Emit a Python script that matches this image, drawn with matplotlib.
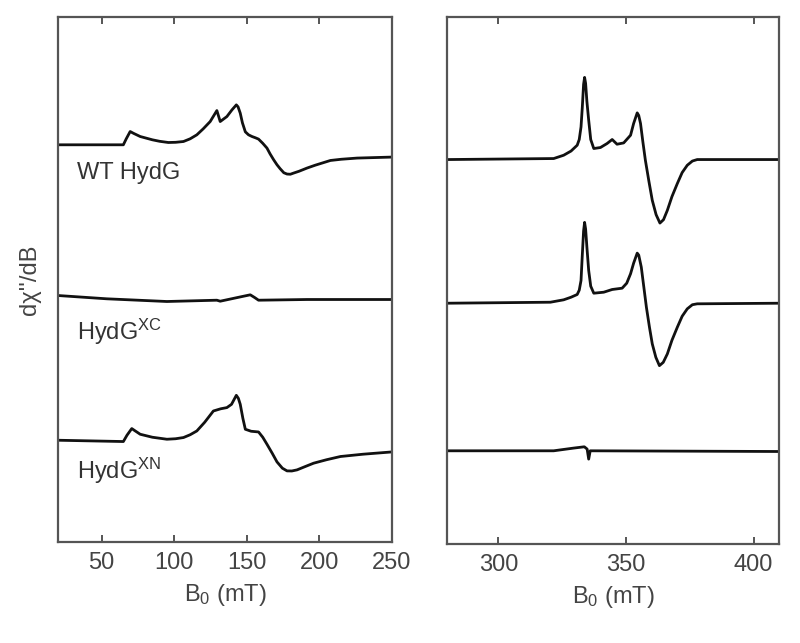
import numpy as np
import matplotlib
matplotlib.use('Agg')
import matplotlib.pyplot as plt

plt.rcParams['font.family'] = ['Liberation Sans', 'DejaVu Sans']
plt.rcParams['mathtext.default'] = 'regular'

# low field spectra (mT, arbitrary units relative to baseline)
wt_B = [20, 65, 67, 69.7, 72, 76.6, 85, 90, 96, 101, 106.4, 111, 115.6, 120, 124.8, 129.4,
        131.7, 136.3, 139.8, 142.8, 144, 145.5, 147, 149, 151.2, 153.6, 156, 158.1, 161,
        163.9, 166, 168.5, 170.8, 173, 175.5, 177.7, 180, 182.3, 186, 191.5, 197, 207.6,
        215, 226, 250]
wt_I = [0, 0, 6, 13.3, 11.5, 8.3, 5, 3.5, 2.3, 2.5, 3.3, 6, 10, 16, 23.3, 34.3,
        23.3, 28.3, 35, 40, 38, 31.7, 22, 13, 10, 8.3, 7, 5.7, 1.5,
        -3.3, -9, -15, -20, -24, -28, -29.3, -29.5, -28.3, -26.5, -23.3, -20.5, -15.7,
        -14.5, -13.3, -12.3]

xc_B = [20, 53.6, 95, 129.4, 131.7, 147.8, 152.4, 155.4, 158.1, 191.5, 250]
xc_I = [0, -3.3, -6, -4.7, -5.7, -0.7, 0.7, -2, -4.7, -4, -4]

xn_B = [20, 65, 67.5, 70.8, 73, 76.6, 85, 95, 101, 106.4, 111, 115.6, 121, 127, 132,
        136.3, 139.5, 142.8, 144.2, 145.5, 147.3, 149, 153, 158.1, 161, 163.9, 167.5,
        170.8, 174.5, 177.7, 181, 184.6, 190, 196, 205, 214.5, 230, 250]
xn_I = [0, -1.3, 5, 11.7, 9.5, 6, 3, 1, 1.5, 2.7, 5.5, 9.3, 18, 29.3, 31.5,
        32.7, 36, 45, 42, 36, 22, 11, 9, 8.3, 3, -4, -13,
        -21.7, -28, -30.7, -30.8, -29.7, -26.5, -23, -19.5, -16.3, -14, -11.7]

# g~2 region spectra
hf1_B = [280, 321.7, 325.6, 328.5, 330.9, 331.7, 332.4, 332.9, 333.4, 333.8, 334.2, 334.7,
         335.4, 336.2, 337.4, 340, 342.6, 344.6, 346.5, 349.1, 351.8, 353, 354.4, 355,
         355.7, 356.6, 357.6, 359, 360.3, 361.8, 363.3, 364.7, 366.2, 368, 370.1, 372,
         374, 376, 377.9, 410]
hf1_I = [0, 1, 4.3, 8.5, 14.3, 20, 32.6, 52, 75, 82, 76, 58,
         39.3, 20, 11, 12, 16, 20, 15.3, 16.6, 24.3, 36, 46.6, 44,
         36, 18, -0.7, -22, -40.7, -55, -63.4, -60, -50.7, -37, -24, -13,
         -5.7, -1.5, 0, 0]

hf2_B = [280, 320.4, 325.6, 328.5, 330.9, 331.7, 332.4, 332.9, 333.4, 333.8, 334.2, 334.7,
         335.4, 336.2, 337.4, 341.3, 344.6, 348.5, 350.3, 351.8, 353, 354.4, 355,
         356, 357, 358, 359.2, 360.3, 361.7, 363.1, 364.6, 366.2, 368, 370.1, 372,
         374, 376, 377.9, 410]
hf2_I = [0, 1, 3.4, 6, 8.7, 13, 22.7, 48, 72, 80.7, 74, 56,
         32.7, 17, 10, 11, 13.7, 15, 20, 29.4, 40, 50, 48,
         36, 16, -4, -24, -40.6, -54, -62.3, -59, -50.6, -37, -24, -13,
         -5.6, -1.5, -0.6, 0]

hf3_B = [280, 321.7, 329.5, 333.7, 334.8, 335.4, 336, 410]
hf3_I = [0, 0, 2.7, 4, 1.7, -8.3, 0, -0.7]

labels = ['WT HydG', 'HydG$^{XC}$', 'HydG$^{XN}$']

fig = plt.figure(figsize=(8, 6.43), dpi=100)
ax1 = fig.add_axes([0.0725, 0.157, 0.4175, 0.8165])
ax2 = fig.add_axes([0.559, 0.154, 0.415, 0.8196])

gray = '#555555'
txt = '#444444'
lw = 2.0

ax1.plot(wt_B, np.array(wt_I) + 398, color='#111111', lw=lw)
ax1.plot(xc_B, np.array(xc_I) + 247, color='#111111', lw=lw)
ax1.plot(xn_B, np.array(xn_I) + 102, color='#111111', lw=lw)

ax2.plot(hf1_B, np.array(hf1_I) + 383.7, color='#111111', lw=lw)
ax2.plot(hf2_B, np.array(hf2_I) + 240.3, color='#111111', lw=lw)
ax2.plot(hf3_B, np.array(hf3_I) + 93, color='#111111', lw=lw)

for lab, y in zip(labels, [370, 211, 71]):
    ax1.text(33, y, lab, fontsize=17, color='#333333', va='center', ha='left')

ax1.set_xlim(20, 250)
ax2.set_xlim(280, 410)
ax1.set_xticks([50, 100, 150, 200, 250])
ax2.set_xticks([300, 350, 400])

for ax in [ax1, ax2]:
    ax.set_ylim(0, 526)
    ax.set_yticks([])
    for s in ax.spines.values():
        s.set_color(gray)
        s.set_linewidth(1.6)
    ax.tick_params(axis='x', direction='in', top=True, length=5, width=1.4,
                   color=gray, labelsize=17, labelcolor=txt, pad=7)
    ax.set_xlabel('B$_0$ (mT)', fontsize=17, color=txt, labelpad=6)

ax1.set_ylabel("d\u03c7''/dB", fontsize=17, color=txt, labelpad=12)

plt.savefig('out.png', dpi=100)
